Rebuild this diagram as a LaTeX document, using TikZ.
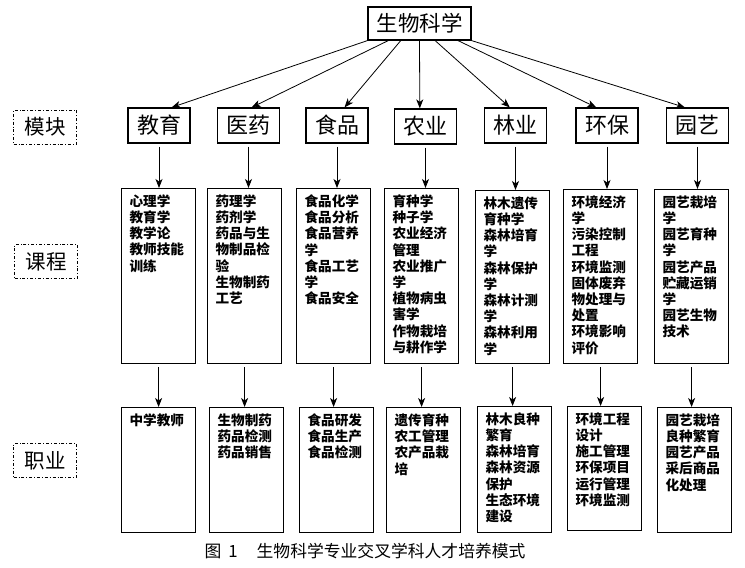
\documentclass[tikz,border=0pt]{standalone}
\usepackage{fontspec}
\setmainfont{Noto Sans CJK SC}
\usetikzlibrary{arrows.meta,positioning,calc}

\newcommand{\itemlist}[2]{\parbox[t][#1][t]{58pt}{#2}}

\begin{document}
\begin{tikzpicture}[x=1pt,y=-1pt,->,>={Stealth[length=9pt,width=7pt,inset=2.5pt]},thick,
    topbox/.style={draw,line width=1.2pt,minimum width=103pt,minimum height=33pt,font=\fontsize{21.5}{24}\selectfont},
    modbox/.style={draw,line width=1.2pt,minimum width=62pt,minimum height=35pt,font=\fontsize{22}{24}\selectfont},
    tagbox/.style={draw,dash dot,line width=0.8pt,minimum width=63pt,minimum height=34pt,font=\fontsize{20.5}{24}\selectfont},
    listbox/.style={draw,line width=1.2pt,anchor=north west,inner xsep=8pt,inner ysep=6pt,font=\bfseries\fontsize{13.6}{16.2}\selectfont}]
  \useasboundingbox (0,0) rectangle (745,568);

  % root
  \node[topbox] (top) at (419.5,23.5) {生物科学};

  % row labels
  \node[tagbox] (tmod) at (45,127) {模块};
  \node[tagbox] (tcou) at (46,261.5) {课程};
  \node[tagbox] (tjob) at (45,460.5) {职业};

  % modules
  \node[modbox] (m1) at (159,125.5) {教育};
  \node[modbox] (m2) at (248.5,125.5) {医药};
  \node[modbox] (m3) at (337,125.5) {食品};
  \node[modbox] (m4) at (425.5,126.5) {农业};
  \node[modbox] (m5) at (515.5,125.5) {林业};
  \node[modbox] (m6) at (607,125.5) {环保};
  \node[modbox] (m7) at (697.5,125.5) {园艺};

  % courses
  \node[listbox] (c1) at (121,188) {\itemlist{163pt}{心理学\\教育学\\教学论\\教师技能\\训练}};
  \node[listbox] (c2) at (207,188) {\itemlist{163pt}{药理学\\药剂学\\药品与生\\物制品检\\验\\生物制药\\工艺}};
  \node[listbox] (c3) at (296,188) {\itemlist{163pt}{食品化学\\食品分析\\食品营养\\学\\食品工艺\\学\\食品安全}};
  \node[listbox] (c4) at (384,188) {\itemlist{163pt}{育种学\\种子学\\农业经济\\管理\\农业推广\\学\\植物病虫\\害学\\作物栽培\\与耕作学}};
  \node[listbox] (c5) at (475,190) {\itemlist{161pt}{林木遗传\\育种学\\森林培育\\学\\森林保护\\学\\森林计测\\学\\森林利用\\学}};
  \node[listbox] (c6) at (563,189) {\itemlist{162pt}{环境经济\\学\\污染控制\\工程\\环境监测\\固体废弃\\物处理与\\处置\\环境影响\\评价}};
  \node[listbox] (c7) at (654,189) {\itemlist{162pt}{园艺栽培\\学\\园艺育种\\学\\园艺产品\\贮藏运销\\学\\园艺生物\\技术}};

  % careers
  \node[listbox] (j1) at (121,407) {\itemlist{113pt}{中学教师}};
  \node[listbox] (j2) at (209,407) {\itemlist{113pt}{生物制药\\药品检测\\药品销售}};
  \node[listbox] (j3) at (299,407) {\itemlist{113pt}{食品研发\\食品生产\\食品检测}};
  \node[listbox] (j4) at (386,407) {\itemlist{113pt}{遗传育种\\农工管理\\农产品栽\\培}};
  \node[listbox] (j5) at (477,406) {\itemlist{114pt}{林木良种\\繁育\\森林培育\\森林资源\\保护\\生态环境\\建设}};
  \node[listbox] (j6) at (567,406) {\itemlist{112pt}{环境工程\\设计\\施工管理\\环保项目\\运行管理\\环境监测}};
  \node[listbox] (j7) at (657,407) {\itemlist{113pt}{园艺栽培\\良种繁育\\园艺产品\\采后商品\\化处理}};

  % caption
  \node[font=\fontsize{16.8}{18}\selectfont] (cap) at (365,551) {图\hspace{7pt}1\hspace{19pt}生物科学专业交叉学科人才培养模式};

  % connectors
  \foreach \m/\s/\e in {m1/0/0.7, m2/0.2/0.55, m3/0.32/0.62, m4/0.5/0.41, m5/0.65/0.41, m6/0.87/0.33, m7/1/0.3}
    \draw ($(top.south west)!\s!(top.south east)$) -- ($(\m.north west)!\e!(\m.north east)$);
  \foreach \i in {1,...,7} {
    \draw[shorten <=3pt] (m\i.south) -- (m\i.south |- c\i.north);
    \draw[shorten <=3pt] (c\i.south) -- (c\i.south |- j\i.north);
  }
\end{tikzpicture}
\end{document}
